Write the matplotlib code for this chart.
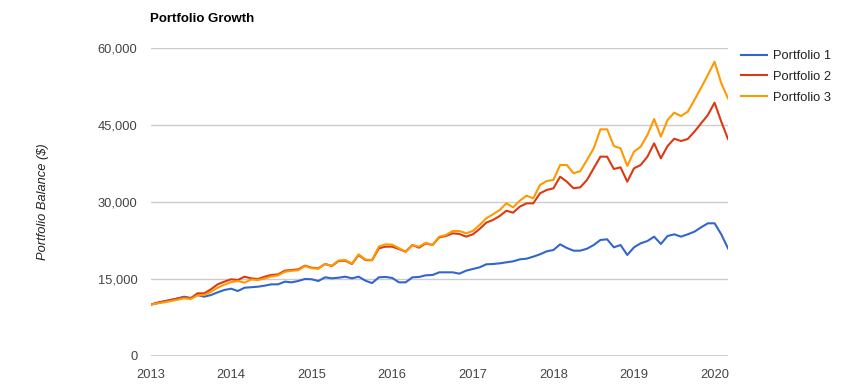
"""
Portfolio growth line chart (Google-Charts look).

Monthly balances from Jan 2013 to Mar 2020 for three portfolios.
Run:  python3 plot.py   -> writes out.png
"""

import matplotlib
matplotlib.use("Agg")
import matplotlib.pyplot as plt
import matplotlib.ticker as mticker

# ---------------------------------------------------------------------------
# Data (monthly balances)
# ---------------------------------------------------------------------------
START_YEAR = 2013

PORTFOLIO_1 = [
    10000, 10300, 10600, 10900, 11200, 11550, 11300, 11880, 11550, 11880,
    12400, 12860, 13110, 12660, 13300, 13400, 13500, 13700, 13960, 13960,
    14480, 14350, 14610, 15000, 14950, 14610, 15330, 15130, 15250, 15450,
    15130, 15450, 14680,
    14200, 15330, 15400, 15200, 14350, 14350, 15330, 15400, 15720, 15780,
    16300, 16300, 16300, 16040, 16620, 16950, 17270, 17860, 17920, 18050,
    18250, 18440, 18830, 18960, 19350, 19810, 20390, 20650, 21750, 21040,
    20520, 20520, 20900,
    21620, 22600, 22730, 21170, 21620, 19680, 21170, 21950, 22400, 23250,
    21820, 23380, 23700, 23250, 23700, 24220, 25070, 25850, 25850, 23700,
    20970,
]

PORTFOLIO_2 = [
    10000, 10390, 10650, 10910, 11170, 11430, 11240, 12210, 12210, 12990,
    13960, 14480, 14940, 14800, 15450, 15130, 15000, 15450, 15780, 15900,
    16620, 16750, 16880, 17600, 17200, 17080, 17920, 17530, 18500, 18570,
    17920, 19680, 18700,
    18650, 20980, 21300, 21300, 20840, 20320, 21620, 21100, 21950, 21620,
    23120, 23380, 23900, 23770, 23250, 23700, 24740, 25980, 26500, 27270,
    28300, 27920, 29100, 29740, 29740, 31690, 32340, 32670, 34930, 33960,
    32670, 32860, 34290,
    36560, 38830, 38830, 36430, 36750, 33960, 36560, 37210, 38830, 41430,
    38500, 40900, 42330, 41880, 42270, 43700, 45320, 46950, 49350, 45640,
    42270,
]

PORTFOLIO_3 = [
    10000, 10250, 10450, 10700, 10950, 11250, 11100, 11800, 11900, 12500,
    13300, 13900, 14400, 14600, 14300, 14900, 14800, 15100, 15500, 15700,
    16400, 16600, 16700, 17500, 17100, 17000, 17900, 17600, 18600, 18700,
    18000, 19800, 18800,
    18700, 21300, 21750, 21700, 21000, 20320, 21620, 21300, 22070, 21620,
    23250, 23570, 24350, 24350, 23900, 24350, 25520, 26820, 27600, 28440,
    29740, 28960, 30260, 31230, 30720, 33310, 34090, 34290, 37210, 37210,
    35590, 36000, 38180,
    40450, 44160, 44160, 40900, 40450, 37010, 39800, 40780, 43050, 46170,
    42730, 45970, 47400, 46750, 47590, 49870, 52270, 54740, 57330, 53120,
    50190,
]

SERIES_LABELS = ["Portfolio 1", "Portfolio 2", "Portfolio 3"]
SERIES_COLORS = ["#3366cc", "#dc3912", "#ff9900"]

Y_TICKS = [0, 15000, 30000, 45000, 60000]
X_TICKS = list(range(2013, 2021))

TITLE = "Portfolio Growth"
Y_LABEL = "Portfolio Balance ($)"

# ---------------------------------------------------------------------------
# Plot
# ---------------------------------------------------------------------------
plt.rcParams["font.family"] = ["Liberation Sans", "DejaVu Sans"]

W, H = 864, 387
fig = plt.figure(figsize=(W / 100, H / 100), dpi=100)

# plot area in pixels: x 150.5 .. 728, y 48 .. 356
left, right, top, bottom = 150.5, 728, 48, 356
ax = fig.add_axes([left / W, 1 - bottom / H, (right - left) / W, (bottom - top) / H])

n = len(PORTFOLIO_1)
dates = [START_YEAR + i / 12 for i in range(n)]

for values, label, color in zip([PORTFOLIO_1, PORTFOLIO_2, PORTFOLIO_3],
                                SERIES_LABELS, SERIES_COLORS):
    ax.plot(dates, values, color=color, linewidth=1.5, label=label,
            solid_joinstyle="round", zorder=3)

ax.set_xlim(dates[0], dates[-1])
ax.set_ylim(0, 60000)

ax.set_yticks(Y_TICKS)
ax.yaxis.set_major_formatter(mticker.FuncFormatter(lambda v, _: f"{int(v):,}"))
ax.set_xticks(X_TICKS)
ax.set_xticklabels([str(y) for y in X_TICKS])

# gridlines only, no spines or tick marks
for side in ("top", "right", "left", "bottom"):
    ax.spines[side].set_visible(False)
ax.yaxis.grid(True, color="#cccccc", linewidth=1.0)
ax.xaxis.grid(False)
ax.set_axisbelow(True)
ax.axhline(0, color="#333333", linewidth=1.0, zorder=2)

ax.tick_params(axis="both", length=0, labelsize=9.3, colors="#444444")
ax.tick_params(axis="y", pad=9.5)
ax.tick_params(axis="x", pad=9.5)

# title + y label
fig.text(left / W, 1 - 19.5 / H, TITLE, fontsize=9.5, fontweight="bold",
         color="#000000", ha="left", va="center")
fig.text(43 / W, 1 - 202 / H, Y_LABEL, fontsize=9.3, fontstyle="italic",
         color="#222222", rotation=90, ha="center", va="center")

# legend to the right of the plot
ax.legend(loc="upper left", bbox_to_anchor=(741 / W, 1 - 50 / H),
          bbox_transform=fig.transFigure, frameon=False, fontsize=9.3,
          labelcolor="#222222", handlelength=2.0, handletextpad=0.5,
          labelspacing=0.68, borderpad=0, borderaxespad=0)

fig.savefig("out.png", dpi=100)
